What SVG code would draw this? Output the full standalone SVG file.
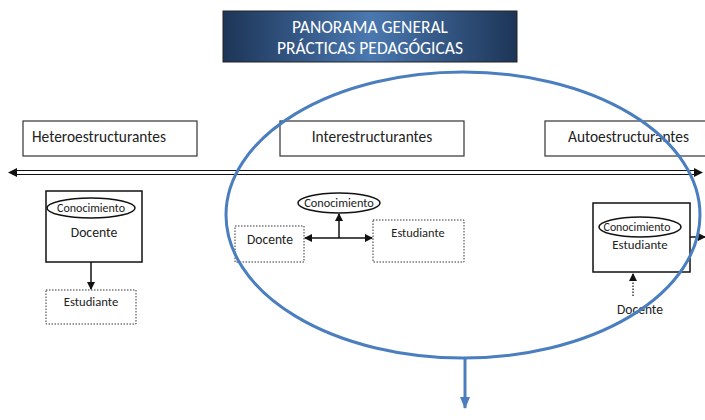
<svg xmlns="http://www.w3.org/2000/svg" width="705" height="420" viewBox="0 0 705 420">
<style>
text{font-family:Calibri,Carlito,Lato,"Liberation Sans",sans-serif;fill:#222;}
.hdr{fill:#fff;stroke:#333;stroke-width:1.2;}
.box{fill:#fff;stroke:#111;stroke-width:1.5;}
.dot{fill:#fff;stroke:#333;stroke-width:1;stroke-dasharray:1.5 1.5;}
.ell{fill:#fff;stroke:#111;stroke-width:1.5;}
.ln{stroke:#111;stroke-width:1.5;fill:none;}
</style>
<defs>
<linearGradient id="tg" x1="0" y1="0" x2="1" y2="0">
<stop offset="0" stop-color="#1d3557"/>
<stop offset="0.5" stop-color="#4a78b0"/>
<stop offset="1" stop-color="#1d3557"/>
</linearGradient>
<marker id="ah" markerWidth="8" markerHeight="8" refX="7" refY="4" orient="auto" markerUnits="userSpaceOnUse"><path d="M0,0 L8,4 L0,8 Z" fill="#111"/></marker>
<marker id="bh" markerWidth="12" markerHeight="10" refX="11" refY="5" orient="auto" markerUnits="userSpaceOnUse"><path d="M0,0 L12,5 L0,10 Z" fill="#4a7ebf"/></marker>
</defs>
<g id="title">
<rect x="223" y="11" width="294" height="51" fill="url(#tg)" stroke="#222" stroke-width="1"/>
<text x="370" y="33" text-anchor="middle" font-size="17.5" style="fill:#fff">PANORAMA GENERAL</text>
<text x="370" y="54" text-anchor="middle" font-size="17.5" style="fill:#fff">PRÁCTICAS PEDAGÓGICAS</text>
</g>
<g id="hetero-header"><rect class="hdr" x="23" y="121" width="174" height="35"/><text x="32" y="142" font-size="15.4">Heteroestructurantes</text></g>
<g id="inter-header"><rect class="hdr" x="280" y="121" width="184" height="35"/><text x="372" y="142" font-size="15.4" text-anchor="middle">Interestructurantes</text></g>
<g id="auto-header"><rect class="hdr" x="545" y="121" width="170" height="35"/><text x="568" y="142" font-size="15.4">Autoestructurantes</text></g>
<g id="connectors">
<line x1="14" y1="170.5" x2="697" y2="170.5" stroke="#111" stroke-width="1.2"/>
<line x1="14" y1="174.5" x2="697" y2="174.5" stroke="#111" stroke-width="1.2"/>
<path d="M8,172.5 L17,168 L17,177 Z" fill="#111"/>
<path d="M703,172.5 L694,168 L694,177 Z" fill="#111"/>
<line class="ln" x1="91" y1="262" x2="91" y2="289" marker-end="url(#ah)"/>
<line class="ln" x1="339" y1="238" x2="305" y2="238" marker-end="url(#ah)"/>
<line class="ln" x1="339" y1="238" x2="372" y2="238" marker-end="url(#ah)"/>
<line class="ln" x1="339" y1="238" x2="339" y2="214" marker-end="url(#ah)"/>
<line class="ln" x1="690" y1="237" x2="705" y2="237" marker-end="url(#ah)"/>
<line x1="633" y1="296" x2="633" y2="274" stroke="#111" stroke-width="1.2" stroke-dasharray="1.5 1.5" marker-end="url(#ah)"/>
</g>
<g id="hetero-docente">
<rect class="box" x="46" y="191" width="96" height="71"/>
<ellipse class="ell" cx="91" cy="208" rx="44" ry="10"/>
<text x="91" y="212" font-size="12" text-anchor="middle">Conocimiento</text>
<text x="94" y="237" font-size="13.7" text-anchor="middle">Docente</text>
</g>
<g id="hetero-estudiante"><rect class="dot" x="46" y="290" width="90" height="34"/><text x="91" y="306" font-size="12.7" text-anchor="middle">Estudiante</text></g>
<g id="inter-conocimiento"><ellipse class="ell" cx="339" cy="203" rx="41" ry="10"/><text x="339" y="207" font-size="12.3" text-anchor="middle">Conocimiento</text></g>
<g id="inter-docente"><rect class="dot" x="235" y="226" width="69" height="36"/><text x="270" y="244" font-size="13.5" text-anchor="middle">Docente</text></g>
<g id="inter-estudiante"><rect class="dot" x="373" y="220" width="91" height="42"/><text x="418" y="237" font-size="12.4" text-anchor="middle">Estudiante</text></g>
<g id="auto-estudiante">
<rect class="box" x="593" y="203" width="97" height="69"/>
<ellipse class="ell" cx="640" cy="227" rx="41" ry="10"/>
<text x="637" y="231" font-size="11.8" text-anchor="middle">Conocimiento</text>
<text x="640" y="249" font-size="12.9" text-anchor="middle">Estudiante</text>
</g>
<g id="auto-docente"><text x="640" y="314" font-size="13.5" text-anchor="middle">Docente</text></g>
<g id="highlight">
<ellipse cx="463" cy="215" rx="237" ry="143" fill="none" stroke="#4a7ebf" stroke-width="3"/>
<line x1="465" y1="358" x2="465" y2="408" stroke="#4a7ebf" stroke-width="3" marker-end="url(#bh)"/>
</g>
</svg>
